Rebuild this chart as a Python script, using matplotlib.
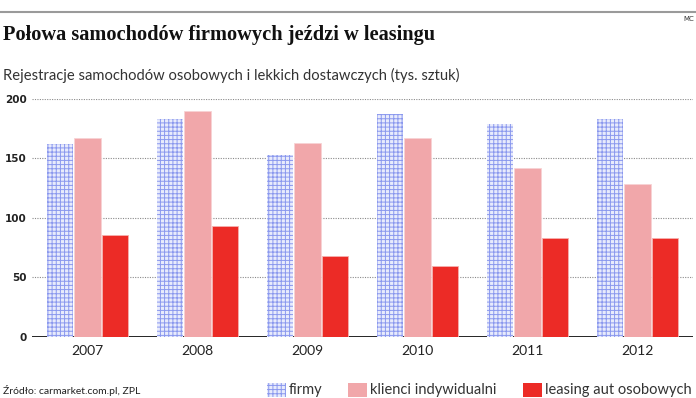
import matplotlib
matplotlib.use("Agg")
import matplotlib.pyplot as plt
import matplotlib.patches as mpatches
import numpy as np

years = ["2007", "2008", "2009", "2010", "2011", "2012"]
firmy = [162, 183, 153, 187, 179, 183]
klienci = [167, 190, 163, 167, 142, 128]
leasing = [86, 93, 68, 60, 83, 83]
yticks = [0, 50, 100, 150, 200]

W, H = 696, 398
fig = plt.figure(figsize=(W / 100, H / 100), dpi=100)
plt.rcParams['hatch.linewidth'] = 0.7

def fx(px):
    return px / W

def fy(py):
    return 1 - py / H

ax = fig.add_axes([fx(32), fy(337), fx(693) - fx(32), fy(98.7) - fy(337)])

x = np.arange(len(years))
w = 0.24
ax.bar(x - 0.25, firmy, w, color="#e8ebfc", edgecolor="#8a98ee", hatch="++++",
       linewidth=0, zorder=3)
ax.bar(x, klienci, w, color="#f1a7aa", edgecolor="#f8d3d4", linewidth=0.6, zorder=3)
ax.bar(x + 0.25, leasing, w, color="#ec2b26", edgecolor="#f7b0ae", linewidth=0.6, zorder=3)

for v in yticks[1:]:
    ax.axhline(v, color="#8a8a8a", lw=0.8, ls=(0, (1, 1.2)), zorder=1)
ax.axhline(0, color="#111111", lw=2, zorder=2)

ax.set_xlim(-0.505, 5.505)
ax.set_ylim(0, 200)
ax.set_yticks(yticks)
ax.set_yticklabels([str(v) for v in yticks], fontsize=7.5, fontweight="bold", color="#222222")
ax.set_xticks(x)
ax.set_xticklabels(years, fontsize=10, color="#222222", family="Lato")
ax.tick_params(length=0, axis="y", pad=4)
ax.tick_params(length=0, axis="x", pad=6)
for s in ax.spines.values():
    s.set_visible(False)

# header
fig.add_artist(plt.Line2D([0, 1], [fy(11.7), fy(11.7)], color="#9a9a9a", lw=1.5))
fig.text(fx(694), fy(19), "MC", fontsize=5, ha="right", va="center", color="#333333")
fig.text(fx(3), fy(35), "Połowa samochodów firmowych jeździ w leasingu", fontsize=14.7,
         fontweight="bold", family="Liberation Serif", ha="left", va="center", color="#111111")
fig.text(fx(3), fy(75), "Rejestracje samochodów osobowych i lekkich dostawczych (tys. sztuk)",
         fontsize=10.6, family="Lato", ha="left", va="center", color="#333333")

# footer
fig.text(fx(3), fy(390), "Źródło: carmarket.com.pl, ZPL", fontsize=7.5, family="Lato",
         ha="left", va="center", color="#222222")

items = [
    (267, "firmy", dict(facecolor="#e8ebfc", edgecolor="#8a98ee", hatch="++++", linewidth=0)),
    (348, "klienci indywidualni", dict(facecolor="#f1a7aa", linewidth=0)),
    (523, "leasing aut osobowych", dict(facecolor="#ec2b26", linewidth=0)),
]
for px, label, style in items:
    fig.add_artist(mpatches.Rectangle((fx(px), fy(397)), fx(19), fy(383) - fy(397), **style))
    fig.text(fx(px + 22), fy(390), label, fontsize=10.5, family="Lato", ha="left",
             va="center", color="#333333")

fig.savefig("out.png", dpi=100)
